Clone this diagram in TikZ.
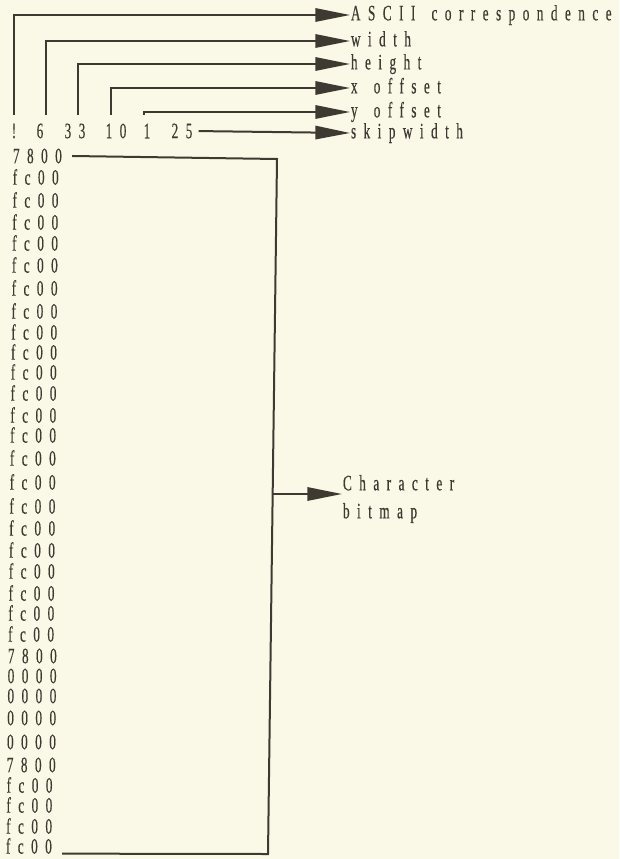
\documentclass[tikz,border=0pt]{standalone}
\usepackage{fontspec}
\setmainfont{Liberation Serif}[FakeStretch=0.6,LetterSpace=34,FakeBold=0.4,WordSpace=1.5]
\usepackage{tikz}
\usetikzlibrary{arrows.meta}
\definecolor{paper}{RGB}{250,248,230}
\definecolor{ink}{RGB}{62,58,50}
\tikzset{-tri-/.style={-{Triangle[length=26pt,width=10pt]},shorten <=#1},
    -tri-/.default=0pt,
    lbl/.style={anchor=west,inner sep=0pt,text height=11pt,text depth=3pt},
    hdr/.style={inner sep=0pt},
    hex/.style={anchor=west,inner sep=0pt}
}

\begin{document}
\begin{tikzpicture}[x=0.75pt,y=-0.75pt,line width=1.5pt,color=ink,
        font=\fontsize{16.5pt}{21pt}\selectfont]
                \fill[paper] (0,0) rectangle (619,859);
                \useasboundingbox (0,0) rectangle (619,859);

                % Header line
                \node[hdr] (asc) at (14,131) {!};
                \node[hdr] (wid) at (40,131) {6};
                \node[hdr] (hgt) at (75,131) {33};
                \node[hdr] (xoff) at (116,131) {10};
                \node[hdr] (yoff) at (147,131) {1};
                \node[hdr] (skip) at (182,131) {25};

                \node[lbl] (lasc) at (350,15) {ASCII correspondence};
                \node[lbl] (lwid) at (350,41) {width};
                \node[lbl] (lhgt) at (350,64) {height};
                \node[lbl] (lxoff) at (350,88) {x offset};
                \node[lbl] (lyoff) at (350,112) {y offset};
                \node[lbl] (lskip) at (350,133) {skipwidth};

                \draw[-tri-=6pt] (asc.north) |- (lasc.west);
                \draw[-tri-=6pt] ([xshift=4.5pt]wid.north) |- (lwid.west);
                \draw[-tri-=6pt] ([xshift=2.5pt]hgt.north) |- (lhgt.west);
                \draw[-tri-=6pt] ([xshift=-3.5pt]xoff.north) |- (lxoff.west);
                \draw[-tri-=6pt] ([xshift=-2.5pt]yoff.north) |- (lyoff.west);
                \draw[-tri-=4pt] (skip.east) -- (lskip.west);

                % Bitmap rows
                \foreach \i/\y/\hx in {1/156/7800,2/177/fc00,3/200/fc00,4/222/fc00,
                    5/243/fc00,6/265/fc00,7/288/fc00,8/311/fc00,9/332/fc00,
                    10/352/fc00,11/372/fc00,12/393/fc00,13/415/fc00,14/435/fc00,
                    15/458/fc00,16/482/fc00,17/506/fc00,18/528/fc00,19/550/fc00,
                    20/571/fc00,21/593/fc00,22/613/fc00,23/634/fc00,24/656/7800,
                    25/676/0000,26/696/0000,27/718/0000,28/742/0000,29/765/7800,
                    30/785/fc00,31/805/fc00,32/826/fc00,33/846/fc00}
                    \node[hex] (r\i) at ({12-0.22*(\i-1)},\y) {\hx};

                \coordinate (bmtop) at (277,159);
                \coordinate (bmbot) at (268,854);
                \coordinate (bmarrow) at (273,494);
                \draw ([xshift=7pt]r1.east) -- (bmtop) -- (bmbot) -- ([xshift=7pt]r33.base east);

                \node[anchor=west,inner sep=0pt,align=left] (cbm) at (342,499) {Character\\bitmap};
                \draw[-tri-] (bmarrow) -- (bmarrow -| cbm.west);
            \end{tikzpicture}
\end{document}
